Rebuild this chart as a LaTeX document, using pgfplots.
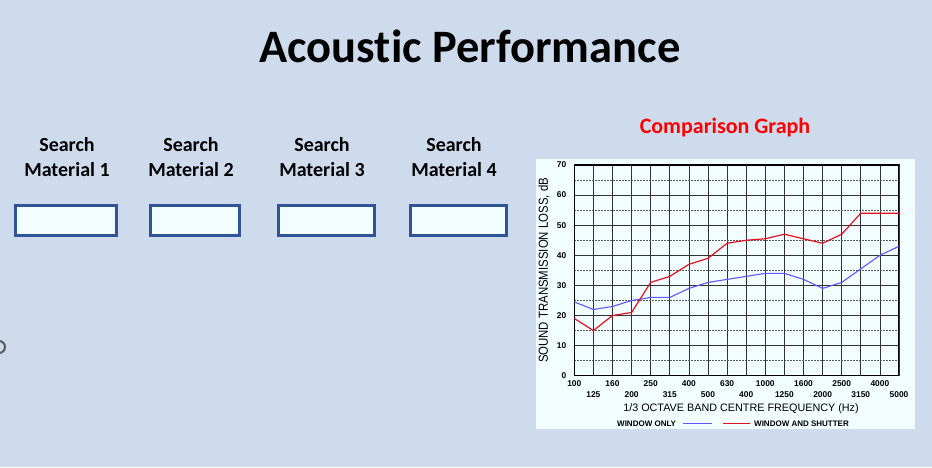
\documentclass[border=0pt]{standalone}
\usepackage{fontspec}
\setmainfont{Carlito}[Ligatures=NoCommon]
\newfontfamily\arial{Liberation Sans}
\usepackage{graphicx}
\usepackage{pgfplots}
\pgfplotsset{compat=1.18}

\definecolor{pagebg}{RGB}{206,219,236}
\definecolor{panelbg}{RGB}{242,253,255}
\definecolor{boxline}{RGB}{47,85,151}
\definecolor{winblue}{RGB}{100,85,255}
\definecolor{winred}{RGB}{228,18,30}

% 1/3 octave band transmission loss, bands indexed 0 (100 Hz) .. 17 (5000 Hz)
\pgfplotstableread{
band  loss
0     24.5
1     22
2     23
3     25
4     26
5     26
6     29
7     31
8     32
9     33
10    34
11    34
12    32
13    29
14    31
15    35.5
16    40
17    43
}\windowonly

\pgfplotstableread{
band  loss
0     19
1     15
2     20
3     21
4     31
5     33
6     37
7     39
8     44
9     45
10    45.5
11    47
12    45.5
13    44
14    47
15    54
16    54
17    54
}\windowshutter

\begin{document}
\begin{tikzpicture}[x=1pt,y=1pt]
\begin{scope}
\clip (0,0) rectangle (932,467);
\fill[pagebg] (0,0) rectangle (932,467);
\draw[black!65, line width=2pt] (-1,120) circle (6);

% heading
\node[anchor=base, font=\bfseries\fontsize{46.5}{50}\selectfont] at (470,404) {Acoustic Performance};

% search fields
\foreach \cx/\xa/\xb/\n in {67/14/118/1, 191/149/241/2, 322/277/376/3, 454/409/508/4}{
  \node[anchor=base, font=\bfseries\fontsize{20}{24}\selectfont] at (\cx,315.3) {Search};
  \node[anchor=base, font=\bfseries\fontsize{20}{24}\selectfont] at (\cx,291) {Material \n};
  \draw[boxline, line width=2.8pt, fill=panelbg] (\xa+1.4,231.4) rectangle (\xb-1.4,261.6);
}

% graph panel
\node[anchor=base, text=red, font=\bfseries\fontsize{22}{26}\selectfont] at (725,333.7) {Comparison Graph};
\fill[panelbg] (536,38) rectangle (915,308);

\begin{axis}[
  at={(574.3pt,91.3pt)}, anchor=south west,
  scale only axis, width=324.7pt, height=210.7pt,
  xmin=0, xmax=17, ymin=0, ymax=70,
  xtick={0,2,...,16},
  xticklabels={100,160,250,400,630,1000,1600,2500,4000},
  extra x ticks={1,3,...,17},
  extra x tick labels={125,200,315,500,400,1250,2000,3150,5000},
  extra x tick style={grid=major, xticklabel style={yshift=-11pt}},
  ytick={0,10,...,70},
  minor ytick={5,15,...,65},
  grid=both,
  major grid style={black!80, line width=0.75pt},
  minor grid style={black!65, dash pattern=on 2pt off 1pt, line width=0.65pt},
  major tick length=0pt, minor tick length=0pt,
  axis line style={black, line width=1.2pt},
  /pgf/number format/assume math mode=true,
  tick label style={font=\arial\bfseries\fontsize{8.4}{9}\selectfont},
  yticklabel style={xshift=-4.5pt},
  xticklabel style={yshift=-1pt},
  axis background/.style={fill=panelbg},
]
\addplot[winblue, line width=1.1pt] table[x=band, y=loss] {\windowonly};
\addplot[winred, line width=1.2pt] table[x=band, y=loss] {\windowshutter};
\end{axis}

\node[rotate=90, font=\arial\fontsize{11.4}{13}\selectfont] at (544,196.5) {\scalebox{1}[1.15]{SOUND TRANSMISSION LOSS, dB}};
\node[anchor=base, font=\arial\fontsize{10.8}{13}\selectfont] at (741,55.3) {1/3 OCTAVE BAND CENTRE FREQUENCY (Hz)};

% key
\node[anchor=base west, inner sep=0pt, font=\arial\bfseries\fontsize{8}{9}\selectfont] at (617,41) {WINDOW ONLY};
\draw[winblue, line width=1pt] (683,43.7) -- (712,43.7);
\draw[winred, line width=1pt] (723,43.7) -- (750,43.7);
\node[anchor=base west, inner sep=0pt, font=\arial\bfseries\fontsize{8}{9}\selectfont] at (754,41) {WINDOW AND SHUTTER};
\end{scope}
\end{tikzpicture}
\end{document}
